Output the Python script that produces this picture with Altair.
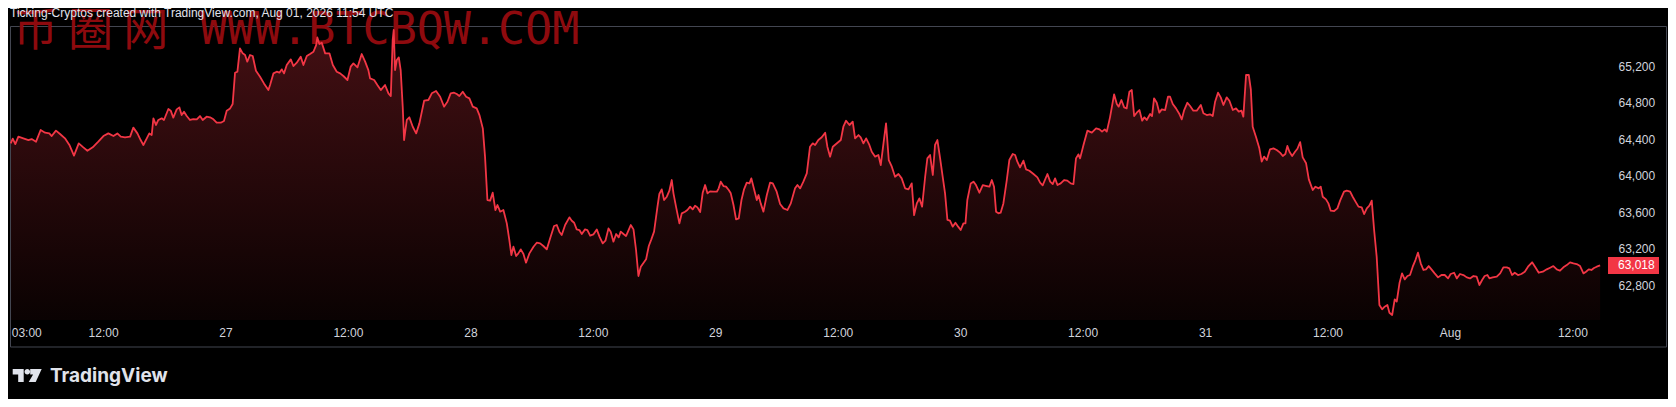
import altair as alt
import pandas as pd

HEADER = "Ticking-Cryptos created with TradingView.com, Aug 01, 2026 11:54 UTC"
WATERMARK_CN = "币 圈 网"
WATERMARK_EN = "WWW.BTCBQW.COM"
BRAND = "TradingView"

# minutes after 2026-07-26 00:00 UTC  /  price in USD
seg1_min = [177, 189, 204, 222, 251, 281, 300, 326, 353, 379,
            404, 418, 443, 467, 496, 522, 549, 577, 604, 628,
            659, 692, 722, 751, 781, 804, 824, 849, 879, 898,
            922, 941, 957, 977, 992, 1006, 1016, 1031, 1045, 1065,
            1078, 1104, 1118, 1133, 1153, 1169, 1182, 1196, 1212, 1231,
            1251, 1271, 1290, 1306, 1329, 1349, 1369, 1388, 1412, 1431,
            1447, 1467, 1482, 1496, 1510, 1525, 1541, 1555, 1568, 1584,
            1600, 1619, 1643, 1666, 1692]
seg1_px = [64356, 64407, 64348, 64429, 64411, 64392, 64403, 64374, 64502, 64473,
           64465, 64436, 64495, 64458, 64411, 64338, 64221, 64356, 64312, 64275,
           64312, 64374, 64436, 64465, 64436, 64465, 64429, 64422, 64429, 64528,
           64465, 64392, 64338, 64411, 64465, 64447, 64630, 64557, 64612, 64630,
           64612, 64732, 64714, 64637, 64728, 64750, 64666, 64703, 64655, 64612,
           64622, 64619, 64655, 64612, 64648, 64641, 64619, 64582, 64582, 64601,
           64714, 64739, 64787, 65130, 65141, 65397, 65342, 65324, 65251, 65324,
           65313, 65152, 65086, 65013, 64940]

seg2_min = [1702, 1722, 1741, 1757, 1771, 1784, 1800, 1824, 1839, 1859,
            1882, 1898, 1918, 1937, 1957, 1973, 1980, 1992, 2006, 2026,
            2051, 2071, 2094, 2114, 2133, 2157, 2176, 2192, 2216, 2241,
            2261, 2280, 2290, 2314, 2333, 2353, 2378, 2398, 2412, 2423,
            2429, 2437, 2447, 2459, 2470, 2482, 2490, 2506, 2521, 2541,
            2561, 2580, 2608, 2633, 2653, 2678, 2702, 2725, 2745, 2764,
            2784, 2800, 2815, 2835, 2855, 2874, 2894, 2917, 2933, 2953,
            2966, 2980, 2996, 3011, 3027, 3039, 3055, 3074, 3094, 3109,
            3121, 3133, 3149, 3162, 3176, 3192, 3207, 3227, 3251, 3270]
seg2_px = [64995, 65123, 65141, 65130, 65167, 65123, 65214, 65276, 65203, 65240,
           65306, 65214, 65313, 65335, 65360, 65433, 65517, 65444, 65459, 65342,
           65342, 65214, 65141, 65123, 65094, 65050, 65196, 65232, 65189, 65335,
           65251, 65159, 65068, 65050, 64995, 64940, 64995, 64904, 64874, 65488,
           65598, 65159, 65269, 65298, 65159, 64758, 64392, 64612, 64641, 64538,
           64465, 64575, 64823, 64831, 64904, 64929, 64867, 64758, 64812, 64904,
           64911, 64896, 64874, 64922, 64867, 64849, 64758, 64739, 64666, 64520,
           64210, 63735, 63728, 63815, 63625, 63680, 63607, 63625, 63479, 63296,
           63132, 63223, 63121, 63150, 63194, 63143, 63048, 63150, 63223, 63267]

seg3_min = [3290, 3309, 3329, 3349, 3372, 3388, 3403, 3417, 3437, 3462,
            3476, 3490, 3505, 3521, 3535, 3554, 3568, 3584, 3603, 3623,
            3639, 3658, 3674, 3692, 3705, 3721, 3737, 3752, 3764, 3780,
            3795, 3809, 3823, 3839, 3854, 3868, 3882, 3913, 3929, 3944,
            3960, 3980, 3991, 4005, 4019, 4035, 4050, 4064, 4074, 4089,
            4109, 4123, 4142, 4156, 4172, 4187, 4201, 4215, 4231, 4246,
            4260, 4274, 4289, 4309, 4329, 4340, 4352, 4368, 4383, 4399,
            4411, 4427, 4442, 4458, 4474, 4489, 4505, 4521, 4532, 4548,
            4564, 4574, 4587, 4603, 4623, 4642, 4658, 4681, 4701, 4721,
            4744, 4764, 4789, 4803, 4819, 4838, 4858]
seg3_px = [63260, 63231, 63194, 63315, 63450, 63461, 63388, 63351, 63461, 63545,
           63508, 63486, 63413, 63406, 63362, 63413, 63406, 63344, 63358, 63413,
           63333, 63260, 63289, 63424, 63388, 63278, 63362, 63326, 63388, 63362,
           63340, 63399, 63461, 63413, 63187, 62902, 63004, 63085, 63231, 63304,
           63388, 63662, 63801, 63852, 63735, 63771, 63837, 63954, 63808, 63662,
           63479, 63589, 63607, 63625, 63662, 63632, 63673, 63654, 63603, 63815,
           63899, 63808, 63830, 63826, 63826, 63863, 63936, 63888, 63881, 63844,
           63808, 63680, 63523, 63534, 63735, 63852, 63925, 63917, 63972, 63852,
           63735, 63790, 63698, 63607, 63790, 63925, 63917, 63826, 63691, 63643,
           63625, 63698, 63863, 63899, 63863, 63936, 64027]

seg4_min = [4877, 4893, 4907, 4926, 4946, 4966, 4979, 4995, 5011, 5030,
            5058, 5073, 5089, 5109, 5128, 5142, 5162, 5175, 5191, 5207,
            5226, 5240, 5260, 5279, 5293, 5309, 5324, 5340, 5358, 5377,
            5397, 5416, 5436, 5456, 5475, 5489, 5505, 5520, 5536, 5554,
            5567, 5583, 5599, 5612, 5626, 5642, 5657, 5671, 5685, 5700,
            5716, 5732, 5748, 5763, 5779, 5791, 5802, 5822, 5838, 5853,
            5873, 5893, 5916, 5932, 5946, 5959, 5971, 5985, 5998, 6014,
            6034, 6049, 6069, 6083, 6096, 6112, 6132, 6147, 6167, 6191,
            6214, 6230, 6245, 6273, 6289, 6304, 6318, 6332, 6351, 6371,
            6390, 6410, 6426, 6441, 6455]
seg4_px = [64319, 64356, 64338, 64392, 64422, 64473, 64319, 64210, 64319, 64348,
           64392, 64538, 64604, 64557, 64593, 64411, 64447, 64422, 64356, 64411,
           64338, 64264, 64210, 64228, 64118, 64356, 64575, 64173, 64100, 63990,
           64020, 63972, 63863, 63852, 63917, 63570, 63698, 63753, 63662, 63990,
           64191, 64228, 64009, 64338, 64392, 64191, 63990, 63808, 63516, 63508,
           63443, 63486, 63443, 63406, 63479, 63479, 63735, 63917, 63936, 63899,
           63815, 63899, 63888, 63881, 63954, 63881, 63607, 63589, 63596, 63698,
           63954, 64173, 64239, 64228, 64155, 64093, 64166, 64071, 64056, 64020,
           63983, 63925, 63896, 64020, 63936, 63910, 63972, 63899, 63917, 63954,
           63947, 63917, 63910, 64191, 64235]

seg5_min = [6465, 6485, 6508, 6534, 6559, 6579, 6594, 6610, 6622, 6641,
            6665, 6681, 6692, 6708, 6724, 6739, 6755, 6769, 6783, 6798,
            6814, 6830, 6843, 6857, 6877, 6888, 6900, 6916, 6931, 6945,
            6965, 6982, 6994, 7010, 7029, 7049, 7063, 7076, 7096, 7112,
            7131, 7151, 7175, 7190, 7210, 7229, 7245, 7259, 7276, 7292,
            7308, 7327, 7343, 7363, 7382, 7398, 7414, 7425, 7441, 7457,
            7469, 7480, 7500, 7519, 7533, 7547, 7563, 7582, 7602, 7621,
            7641, 7657, 7672, 7684, 7696, 7712, 7729, 7743, 7759, 7774,
            7794, 7810, 7833, 7849, 7868, 7880, 7892, 7911, 7925, 7939,
            7959, 7978, 7994, 8017, 8033]
seg5_px = [64191, 64338, 64495, 64473, 64520, 64509, 64484, 64509, 64484, 64641,
           64893, 64787, 64758, 64831, 64750, 64739, 64922, 64940, 64655, 64692,
           64721, 64604, 64641, 64612, 64677, 64655, 64849, 64801, 64692, 64728,
           64721, 64867, 64867, 64787, 64739, 64677, 64619, 64714, 64801, 64765,
           64714, 64714, 64776, 64685, 64666, 64674, 64655, 64812, 64911, 64860,
           64776, 64860, 64823, 64721, 64739, 64703, 64714, 64648, 65105, 65105,
           64948, 64538, 64422, 64301, 64155, 64210, 64173, 64290, 64301, 64283,
           64254, 64217, 64239, 64327, 64264, 64217, 64264, 64297, 64370, 64202,
           64137, 63961, 63844, 63881, 63863, 63881, 63771, 63742, 63698, 63618,
           63614, 63643, 63728, 63826, 63837]

seg6_min = [8053, 8068, 8088, 8102, 8121, 8135, 8151, 8166, 8180, 8194,
            8209, 8225, 8241, 8256, 8272, 8284, 8300, 8315, 8327, 8343,
            8358, 8374, 8390, 8405, 8421, 8437, 8452, 8468, 8484, 8499,
            8515, 8531, 8550, 8570, 8590, 8609, 8629, 8644, 8664, 8680,
            8699, 8719, 8739, 8758, 8778, 8797, 8813, 8829, 8844, 8860,
            8872, 8891, 8915, 8935, 8954, 8974, 8989, 9005, 9021, 9040,
            9060, 9080, 9099, 9123, 9142, 9162, 9186, 9209, 9229, 9248,
            9268, 9287, 9307, 9327, 9346, 9366, 9385, 9405, 9425, 9440,
            9456, 9472, 9487, 9503, 9523]
seg6_px = [63826, 63771, 63706, 63662, 63654, 63581, 63643, 63673, 63728, 63406,
           63114, 62584, 62537, 62566, 62584, 62500, 62475, 62646, 62621, 62822,
           62931, 62865, 62902, 62913, 63004, 63077, 63158, 63041, 62968, 62975,
           63011, 62975, 62931, 62887, 62913, 62913, 62876, 62924, 62938, 62876,
           62924, 62913, 62887, 62876, 62902, 62895, 62803, 62858, 62902, 62913,
           62876, 62887, 62895, 62931, 62997, 62997, 62986, 62913, 62938, 62913,
           62924, 62949, 63004, 63052, 62997, 62938, 62949, 62975, 62993, 63011,
           62975, 62960, 62997, 63022, 63052, 63041, 63033, 63011, 62931, 62949,
           62975, 62968, 62990, 63004, 63018]

x_tick_times = ["2026-07-26T03:00:00Z", "2026-07-26T12:00:00Z",
                "2026-07-27T00:00:00Z", "2026-07-27T12:00:00Z",
                "2026-07-28T00:00:00Z", "2026-07-28T12:00:00Z",
                "2026-07-29T00:00:00Z", "2026-07-29T12:00:00Z",
                "2026-07-30T00:00:00Z", "2026-07-30T12:00:00Z",
                "2026-07-31T00:00:00Z", "2026-07-31T12:00:00Z",
                "2026-08-01T00:00:00Z", "2026-08-01T12:00:00Z"]
x_range = ["2026-07-26T02:41:00Z", "2026-08-01T15:41:00Z"]
y_ticks = [62800, 63200, 63600, 64000, 64400, 64800, 65200]
y_range = [62420, 65598]

RED = "#f23645"
TXT = "#d1d4dc"
WM = "#8e0a0e"
FONT = "Liberation Sans"

minutes = seg1_min + seg2_min + seg3_min + seg4_min + seg5_min + seg6_min
prices = seg1_px + seg2_px + seg3_px + seg4_px + seg5_px + seg6_px
base = pd.Timestamp("2026-07-26T00:00:00Z")
times = [(base + pd.Timedelta(minutes=m)).strftime("%Y-%m-%dT%H:%M:%SZ") for m in minutes]
df = pd.DataFrame({"time": times, "price": prices})
last_df = df.tail(1).reset_index(drop=True)


def ms(t):
    return int(pd.Timestamp(t).value // 10**6)


tick_ms = [ms(t) for t in x_tick_times]
dom_ms = [ms(t) for t in x_range]

label_expr = ("utcFormat(datum.value, '%H:%M') == '00:00' ? "
              "(utcFormat(datum.value, '%d') == '01' ? utcFormat(datum.value, '%b') : "
              "utcFormat(datum.value, '%-d')) : utcFormat(datum.value, '%H:%M')")

x_enc = alt.X("time:T",
              scale=alt.Scale(type="utc", domain=dom_ms),
              axis=alt.Axis(values=tick_ms, labelExpr=label_expr, title=None, grid=False,
                            domain=False, ticks=False, tickSize=0, labelPadding=12.7,
                            labelBaseline="middle", labelFlush=5, labelOverlap=False,
                            labelColor=TXT, labelFontSize=12, labelFont=FONT, zindex=2))
y_enc = alt.Y("price:Q",
              scale=alt.Scale(domain=y_range, zero=False, nice=False),
              axis=alt.Axis(orient="right", values=y_ticks, format=",.0f", title=None,
                            grid=False, domain=False, ticks=False, tickSize=0,
                            labelPadding=8, labelAlign="left", labelBaseline="middle",
                            labelColor=TXT, labelFontSize=12, labelFont=FONT, zindex=2))

grad = alt.Gradient(gradient="linear",
                    stops=[alt.GradientStop(color="#440f13", offset=0),
                           alt.GradientStop(color="#0a0202", offset=1)],
                    x1=0, x2=0, y1=0, y2=1)

area = alt.Chart(df).mark_area(color=grad, interpolate="linear").encode(
    x=x_enc, y=y_enc, y2=alt.datum(y_range[0]))
line = alt.Chart(df).mark_line(color=RED, strokeWidth=1.8, strokeJoin="round").encode(
    x=x_enc, y=y_enc)

one = pd.DataFrame({"k": [0]})
border = alt.Chart(one).mark_rect(fillOpacity=0, stroke="#434651", strokeWidth=1).encode(
    x=alt.value(2.5), x2=alt.value(1658.5), y=alt.value(-3.5), y2=alt.value(317))

wm_cn = alt.Chart(pd.DataFrame({"t": [WATERMARK_CN]})).mark_text(
    font="Noto Sans CJK SC", fontSize=45, color=WM, align="left", baseline="alphabetic"
).encode(x=alt.value(5), y=alt.value(16), text="t:N")
wm_en = alt.Chart(pd.DataFrame({"t": [WATERMARK_EN]})).mark_text(
    font="DejaVu Sans Mono", fontSize=45, color=WM, align="left", baseline="alphabetic"
).encode(x=alt.value(192), y=alt.value(14), text="t:N")

box = alt.Chart(last_df).mark_point(
    shape="M-25.5,-8.5H25.5V8.5H-25.5Z", size=4, filled=True, fill=RED, opacity=1, strokeWidth=0
).encode(x=alt.value(1625.5), y=y_enc)
box_text = alt.Chart(last_df).mark_text(
    align="left", baseline="middle", color="#ffffff", fontSize=12, font=FONT
).encode(x=alt.value(1610), y=y_enc, text=alt.Text("price:Q", format=",.0f"))

header = alt.Chart(pd.DataFrame({"t": [HEADER]})).mark_text(
    align="left", baseline="middle", fontSize=12, color="#e0e3eb", font=FONT
).encode(x=alt.value(2), y=alt.value(-17), text="t:N")

LOGO = ("M-14.5,-6.5H-3.5V6.5H-9V-1H-14.5Z "
        "M-2.7,-3.7A2.8,2.8 0 1,0 2.9,-3.7A2.8,2.8 0 1,0 -2.7,-3.7Z "
        "M3,-6.5H14.5L8.5,6.5H1.5L5.9,-1H3Z")
logo = alt.Chart(one).mark_point(
    shape=LOGO, size=4, filled=True, fill="#e0e3eb", opacity=1, strokeWidth=0
).encode(x=alt.value(19.2), y=alt.value(345.5))
brand = alt.Chart(pd.DataFrame({"t": [BRAND]})).mark_text(
    align="left", baseline="alphabetic", fontSize=19, fontWeight="bold", color="#e0e3eb",
    font="Inter"
).encode(x=alt.value(42), y=alt.value(352.3), text="t:N")

chart = alt.layer(area, border, wm_cn, wm_en, line, box, box_text, header, logo, brand).properties(
    width=1602, height=290,
    padding={"left": 0, "top": 22, "right": 58, "bottom": 79},
    autosize=alt.AutoSizeParams(type="none"),
    background="#000000",
).configure_view(stroke=None)

chart.save("out.html", embed_options={"renderer": "svg", "actions": False})
